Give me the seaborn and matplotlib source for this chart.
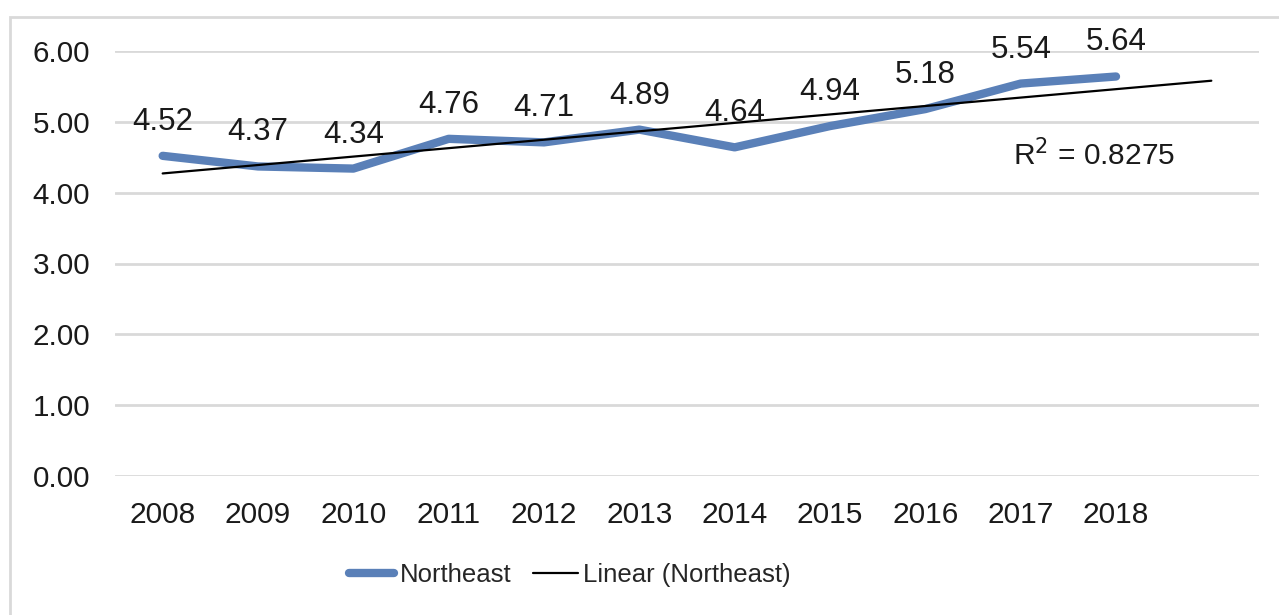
import numpy as np
import pandas as pd
import seaborn as sns
import matplotlib
matplotlib.use("Agg")
import matplotlib.pyplot as plt
from matplotlib.patches import Rectangle
from matplotlib.lines import Line2D

years = ["2008", "2009", "2010", "2011", "2012", "2013", "2014", "2015", "2016", "2017", "2018"]
values = [4.52, 4.37, 4.34, 4.76, 4.71, 4.89, 4.64, 4.94, 5.18, 5.54, 5.64]
yticks = [0, 1, 2, 3, 4, 5, 6]
series_name = "Northeast"
trend_name = "Linear (Northeast)"
r2_label = "R$^2$ = 0.8275"

sns.set_theme(style="white")
plt.rcParams['font.family'] = ['Liberation Sans', 'DejaVu Sans']

fig = plt.figure(figsize=(12.79, 6.15), dpi=100)
ax = fig.add_axes([115/1279, 1 - 476/615, (1259 - 115)/1279, (476 - 51)/615])

# outer chart frame
fig.patches.append(Rectangle((10/1279, -0.1), 1.2, 1 - 17/615 + 0.1, transform=fig.transFigure,
                             fill=False, edgecolor="#D9D9D9", linewidth=2))

x = np.arange(len(years))
df = pd.DataFrame({"x": x, "value": values})
blue = "#5A80B8"
sns.lineplot(data=df, x="x", y="value", ax=ax, color=blue, linewidth=6, solid_capstyle="round")

# linear trendline, forward forecast 1 period
coef = np.polyfit(x, values, 1)
xt = np.array([0, len(years)])
ax.plot(xt, np.polyval(coef, xt), color="black", linewidth=1.6)

for xi, v in zip(x, values):
    ax.annotate(f"{v:.2f}", (xi, v), xytext=(0, 24.5), textcoords="offset points",
                ha="center", va="center", fontsize=22.5, color="#1a1a1a")

ax.text(0.856, 0.755, r2_label, transform=ax.transAxes, ha="center", va="center",
        fontsize=21.5, color="#1a1a1a")

ax.set_xlim(-0.5, len(years) + 0.5)
ax.set_ylim(0, 6)
ax.set_yticks(yticks)
ax.set_yticklabels([f"{t:.2f}" for t in yticks], fontsize=21.3, color="#1a1a1a")
ax.set_xticks(x)
ax.set_xticklabels(years, fontsize=21.5, color="#1a1a1a")
ax.tick_params(axis="y", length=0, pad=18)
ax.tick_params(axis="x", length=0, pad=18)
ax.set_xlabel("")
ax.set_ylabel("")
ax.grid(axis="y", color="#D9D9D9", linewidth=2)
ax.set_axisbelow(True)
for s in ax.spines.values():
    s.set_visible(False)

handles = [Line2D([0], [0], color=blue, linewidth=6, solid_capstyle="round"),
           Line2D([0], [0], color="black", linewidth=1.6)]
fig.legend(handles, [series_name, trend_name], loc="center", bbox_to_anchor=(570/1279, 1 - 575/615),
           ncol=2, frameon=False, fontsize=18.5, handlelength=1.75, handletextpad=0.2, columnspacing=0.85)

fig.savefig("out.png", dpi=100)
